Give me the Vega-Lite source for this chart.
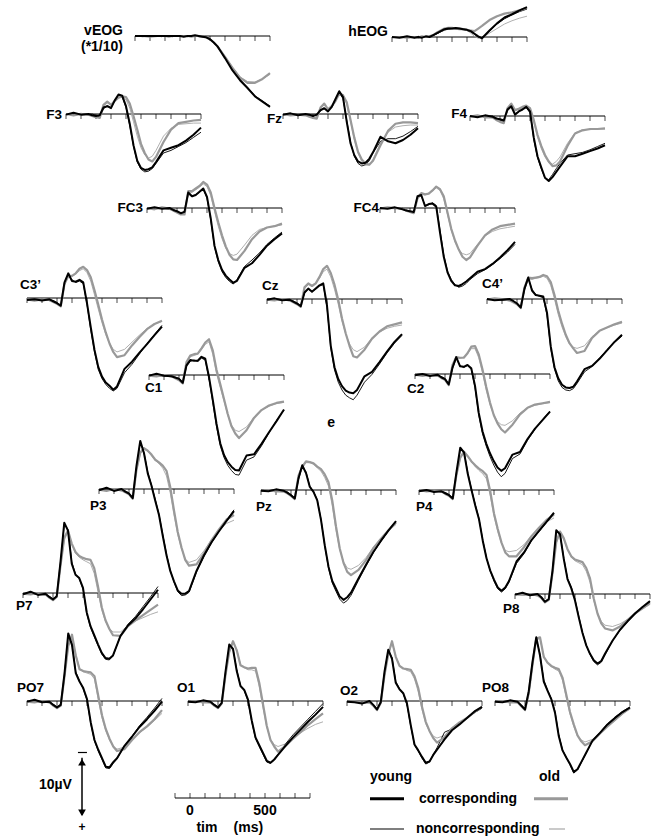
{
"$schema":"https://vega.github.io/schema/vega-lite/v6.json",
"width":652,"height":836,"padding":0,"autosize":{"type":"none"},"background":"white",
"config":{"view":{"stroke":null},"axis":{"disable":true},"font":"Liberation Sans","mark":{"invalid":"show"}},
"datasets":{
"one":[{"t":0,"v":0}],
"tlab":[{"t":0,"v":0,"lab":"0"},{"t":500,"v":0,"lab":"500"}],
"grid":[{"grid":"s","t":[-100,-50,0,50,75,100,125,150,175,200,225,250,275,300,325,350,375,400,425,450,475,500,550,600,650,700,750,800]}],
"ticks":[{"t":-100,"v":0},{"t":0,"v":0},{"t":100,"v":0},{"t":200,"v":0},{"t":300,"v":0},{"t":400,"v":0},{"t":500,"v":0},{"t":600,"v":0},{"t":700,"v":0},{"t":800,"v":0}],
"erp":[
{"ch":"vEOG","g":"on","grid":"s","v":[0.1,0,0,0,0,0.1,0,0,0,0.1,0,0,0,0,0.1,0.1,0.2,0.5,0.9,1.5,2.3,3.1,4.8,6.3,7.0,7.1,6.6,5.9]},
{"ch":"vEOG","g":"yn","grid":"s","v":[0,0.1,0,0,0.1,0,0,0.1,0,0,0,0.1,0,0,0.1,0.1,0.2,0.4,0.9,1.5,2.4,3.3,5.2,6.7,7.9,9.2,10.0,10.8]},
{"ch":"vEOG","g":"oc","grid":"s","v":[0,0,0.1,0,0,0,0.1,0,0,0,0,0,0.1,0,0,0.1,0.2,0.5,1.0,1.6,2.4,3.2,4.9,6.4,7.2,7.2,6.6,5.7]},
{"ch":"vEOG","g":"yc","grid":"s","v":[0,0,0,0,0,0,0,0,0,0,0.1,0,0,-0.1,0,0.1,0.2,0.5,1.0,1.6,2.5,3.4,5.3,6.8,8.0,9.3,10.1,10.9]},
{"ch":"hEOG","g":"on","grid":"s","v":[0.1,0.0,0.0,0.0,0.1,0.0,-0.1,0.0,-0.2,-0.5,-0.8,-1.0,-1.2,-1.2,-1.2,-1.1,-1.1,-1.0,-0.6,-0.1,0.2,0.1,-0.6,-1.3,-2.0,-2.5,-2.9,-3.2]},
{"ch":"hEOG","g":"yn","grid":"s","v":[0.1,0.0,0.0,0.1,-0.1,0.0,0.0,-0.1,-0.2,-0.5,-0.8,-1.1,-1.2,-1.3,-1.3,-1.2,-1.2,-1.0,-0.8,-0.4,0.0,0.1,-0.9,-2.0,-2.8,-3.4,-3.9,-4.3]},
{"ch":"hEOG","g":"oc","grid":"s","v":[0.0,0.0,0.1,0.0,0.1,-0.1,0.0,-0.1,-0.3,-0.7,-1.0,-1.3,-1.4,-1.4,-1.3,-1.3,-1.2,-1.1,-1.0,-0.9,-1.3,-1.7,-2.6,-3.2,-3.6,-3.8,-4.1,-4.5]},
{"ch":"hEOG","g":"yc","grid":"s","v":[0.0,0.1,-0.1,0.1,0.0,0.1,-0.1,0.0,-0.3,-0.6,-0.9,-1.2,-1.3,-1.3,-1.4,-1.3,-1.2,-1.1,-0.9,-0.5,-0.1,0.2,-1.0,-2.1,-3.0,-3.5,-4.1,-4.6]},
{"ch":"F3","g":"on","grid":"s","v":[0.1,-0.1,0.2,0.0,0.2,0.4,0.5,-1.2,-1.7,-1.5,-2.2,-2.6,-2.6,-2.2,-0.9,1.2,3.4,5.2,6.3,6.8,6.5,5.6,3.4,2.2,1.6,1.5,1.4,1.4]},
{"ch":"F3","g":"yn","grid":"s","v":[0.0,0.1,-0.1,0.1,0.0,0.2,0.4,-0.8,-1.3,-1.0,-2.0,-2.9,-2.6,-1.0,1.8,5.0,7.4,8.5,8.9,8.8,8.4,7.6,6.0,5.6,5.0,4.4,3.6,2.8]},
{"ch":"F3","g":"oc","grid":"s","v":[0.0,0.2,0.0,0.1,0.3,0.5,0.6,-1.4,-1.9,-1.4,-2.0,-2.5,-2.7,-2.6,-1.6,0.3,2.4,4.6,6.0,7.0,7.3,6.6,4.3,2.4,1.4,1.2,1.0,0.9]},
{"ch":"F3","g":"yc","grid":"s","v":[0.1,-0.2,0.1,0.0,0.2,0.3,0.2,-1.0,-1.2,-0.9,-2.1,-3.0,-2.8,-1.2,1.5,4.8,7.2,8.3,8.6,8.5,8.2,7.4,5.6,5.2,4.8,4.1,3.2,2.1]},
{"ch":"Fz","g":"on","grid":"s","v":[0.1,0.0,0.2,0.1,0.3,0.5,0.6,-0.9,-1.4,-0.8,-1.3,-2.1,-3.0,-2.7,-1.5,1.1,3.9,6.0,7.3,7.9,7.8,7.0,4.5,2.8,2.0,1.8,1.7,1.7]},
{"ch":"Fz","g":"yn","grid":"s","v":[0.0,0.1,0.0,0.1,0.2,0.2,0.3,-0.5,-0.8,-0.5,-1.0,-2.0,-3.2,-2.4,1.0,4.3,6.5,7.6,8.0,7.8,7.2,6.0,4.2,3.8,3.8,3.4,2.7,1.9]},
{"ch":"Fz","g":"oc","grid":"s","v":[0.0,0.2,0.1,0.2,0.4,0.6,0.7,-1.0,-1.6,-0.7,-1.2,-2.0,-3.1,-2.9,-1.8,0.9,3.6,5.8,7.0,7.6,7.8,7.2,4.8,2.6,1.5,1.3,1.3,1.4]},
{"ch":"Fz","g":"yc","grid":"s","v":[0.1,-0.1,0.2,0.0,0.1,0.3,0.1,-0.6,-0.9,-0.4,-1.1,-2.3,-3.5,-2.6,1.2,4.5,6.3,7.3,7.6,7.5,6.9,5.9,3.5,4.2,4.5,4.0,3.2,2.2]},
{"ch":"F4","g":"on","grid":"s","v":[0.0,0.1,0.1,0.3,0.5,0.8,1.0,-1.1,-1.7,-1.0,-1.0,-1.3,-1.5,-1.0,0.9,3.2,5.0,6.3,7.2,7.4,7.0,6.3,4.2,2.6,2.1,2.1,2.0,2.0]},
{"ch":"F4","g":"yn","grid":"s","v":[0.1,0.0,0.1,0.0,0.3,0.6,0.8,-0.8,-1.4,-0.4,-0.6,-1.1,-1.3,-0.5,3.6,6.4,8.1,9.6,9.8,9.0,8.1,7.3,6.0,5.8,5.6,5.2,4.7,4.2]},
{"ch":"F4","g":"oc","grid":"s","v":[0.1,-0.1,0.2,0.2,0.6,0.9,1.1,-1.2,-1.9,-0.9,-1.1,-1.4,-1.6,-1.2,0.6,2.9,4.6,6.0,7.0,7.7,7.6,7.0,4.6,2.7,2.2,2.0,2.0,1.9]},
{"ch":"F4","g":"yc","grid":"s","v":[0.0,0.2,-0.1,0.1,0.4,0.5,0.7,-1.0,-1.5,-0.2,-0.7,-1.0,-1.4,-0.7,3.3,6.2,7.9,9.5,10.0,9.4,8.6,7.8,6.2,6.2,5.8,5.4,5.0,4.5]},
{"ch":"FC3","g":"on","grid":"s","v":[0.1,0.0,0.1,0.2,0.3,0.6,0.9,0.8,-2.3,-2.4,-2.8,-3.2,-3.7,-3.3,-1.9,0.5,2.8,4.7,6.2,7.0,7.3,7.1,5.7,4.2,3.3,3.0,2.8,2.6]},
{"ch":"FC3","g":"yn","grid":"s","v":[0.0,0.1,0.0,0.2,0.2,0.6,0.9,0.5,-2.2,-1.7,-2.1,-2.4,-2.9,-1.5,1.9,6.0,8.3,9.8,10.7,11.3,11.7,11.0,9.0,8.0,6.9,5.6,4.6,3.7]},
{"ch":"FC3","g":"oc","grid":"s","v":[0.0,0.2,-0.1,0.1,0.4,0.7,1.0,1.0,-2.6,-2.6,-3.0,-3.4,-4.0,-3.6,-2.4,0.0,2.2,4.2,5.9,7.2,7.9,8.0,6.6,4.8,3.6,3.0,2.8,2.4]},
{"ch":"FC3","g":"yc","grid":"s","v":[0.1,-0.1,0.1,0.0,0.3,0.5,0.8,0.6,-2.4,-1.8,-2.0,-2.5,-3.0,-1.7,1.6,5.8,8.0,9.5,10.4,11.0,11.5,11.2,9.2,8.5,7.2,5.8,4.8,3.9]},
{"ch":"FC4","g":"on","grid":"s","v":[0.0,0.1,0.1,0.2,0.3,0.5,0.7,-1.4,-2.1,-2.0,-2.3,-2.6,-3.1,-2.7,-1.4,1.0,3.4,5.2,6.4,7.0,7.2,7.0,5.6,4.3,3.6,3.2,3.0,2.8]},
{"ch":"FC4","g":"yn","grid":"s","v":[0.1,0.0,0.1,0.0,0.3,0.6,0.7,-1.6,-1.9,-0.4,-0.5,-0.8,-0.4,3.4,7.2,9.7,11.0,11.8,12.2,12.0,11.6,11.0,10.1,9.5,8.7,7.8,6.8,5.6]},
{"ch":"FC4","g":"oc","grid":"s","v":[0.1,-0.1,0.0,0.1,0.4,0.6,0.8,-1.5,-2.3,-2.1,-2.2,-2.7,-3.3,-2.9,-1.8,0.7,3.2,5.0,6.4,7.5,8.0,7.6,5.8,4.2,3.3,2.8,2.6,2.4]},
{"ch":"FC4","g":"yc","grid":"s","v":[0.0,0.1,-0.1,0.2,0.4,0.5,0.6,-1.8,-2.0,-0.3,-0.6,-0.7,-0.2,3.8,7.5,9.9,11.2,11.9,12.0,11.7,11.3,10.8,9.8,9.4,8.6,7.6,6.5,5.2]},
{"ch":"C3'","g":"on","grid":"s","v":[0.3,0.2,0.3,0.4,0.5,0.8,1.2,-2.0,-3.2,-3.3,-3.7,-4.2,-4.5,-3.9,-2.6,-0.5,1.7,3.8,5.6,7.0,7.9,8.3,7.9,6.8,5.7,4.7,4.0,3.6]},
{"ch":"C3'","g":"yn","grid":"s","v":[0.2,0.3,0.3,0.4,0.4,0.7,1.1,-2.1,-3.5,-2.8,-2.4,-2.6,-2.2,1.0,4.9,8.3,11.0,12.4,13.3,13.9,14.3,13.9,11.5,10.2,8.6,7.0,5.6,4.2]},
{"ch":"C3'","g":"oc","grid":"s","v":[0.2,0.4,0.2,0.3,0.6,0.9,1.3,-2.2,-3.4,-3.4,-3.8,-4.5,-4.8,-4.3,-3.2,-1.2,1.0,3.3,5.3,7.0,8.3,9.1,8.8,7.3,6.0,4.8,4.0,3.5]},
{"ch":"C3'","g":"yc","grid":"s","v":[0.3,0.2,0.4,0.2,0.5,0.8,1.2,-2.4,-3.8,-2.6,-2.5,-2.8,-2.4,0.8,4.5,8.0,10.6,12.1,13.0,13.5,14.1,13.6,10.9,9.8,8.4,7.1,5.7,4.4]},
{"ch":"Cz","g":"on","grid":"s","v":[0.0,0.1,0.1,0.3,0.4,0.7,1.1,-1.6,-2.2,-2.1,-2.5,-3.2,-4.2,-4.6,-3.4,-1.5,0.8,3.4,5.4,6.9,7.8,8.1,7.4,6.0,5.1,4.5,4.2,4.0]},
{"ch":"Cz","g":"yn","grid":"s","v":[0.0,0.1,0.1,0.2,0.3,0.6,1.0,-0.9,-1.5,-1.2,-1.5,-2.0,-2.2,1.3,7.5,10.9,12.8,14.0,14.8,15.2,15.5,14.8,12.8,11.6,10.0,8.3,6.8,5.6]},
{"ch":"Cz","g":"oc","grid":"s","v":[0.1,0.2,0.0,0.2,0.5,0.8,1.2,-1.8,-2.4,-2.0,-2.4,-3.4,-4.6,-5.1,-4.0,-2.2,0.1,3.0,5.3,7.2,8.8,9.0,7.8,6.1,5.0,4.2,3.9,3.6]},
{"ch":"Cz","g":"yc","grid":"s","v":[0.1,-0.1,0.2,0.1,0.4,0.7,1.1,-1.0,-1.6,-1.1,-1.6,-2.1,-2.4,1.0,7.2,10.5,12.3,13.4,14.1,14.4,14.5,14.0,11.9,11.2,9.7,8.1,6.6,5.4]},
{"ch":"C4'","g":"on","grid":"s","v":[0.0,0.1,0.1,0.3,0.4,0.7,1.3,-1.7,-3.1,-3.0,-3.2,-3.3,-3.5,-3.2,-2.1,0.0,2.4,4.3,5.8,6.9,7.4,7.6,7.2,5.8,4.9,4.4,4.0,3.7]},
{"ch":"C4'","g":"yn","grid":"s","v":[0.1,0.0,0.2,0.1,0.4,0.6,1.2,-1.4,-3.1,-1.5,-0.7,-0.4,-0.2,2.5,7.6,10.8,12.6,13.6,14.0,14.1,13.8,13.0,11.2,10.4,9.1,7.8,6.7,5.7]},
{"ch":"C4'","g":"oc","grid":"s","v":[0.1,-0.1,0.0,0.2,0.5,0.8,1.4,-1.8,-3.3,-3.2,-3.3,-3.4,-3.7,-3.5,-2.6,-0.6,1.8,3.8,5.5,6.8,7.6,8.3,8.0,6.0,4.9,4.4,3.9,3.5]},
{"ch":"C4'","g":"yc","grid":"s","v":[0.0,0.2,0.1,0.0,0.3,0.7,1.3,-1.6,-3.3,-1.3,-0.6,-0.5,-0.4,2.1,7.3,10.5,12.2,13.2,13.6,13.7,13.5,12.7,10.8,10.3,9.2,7.9,6.6,5.5]},
{"ch":"C1","g":"on","grid":"s","v":[0.0,0.1,0.1,0.3,0.4,0.7,1.2,-1.8,-2.8,-3.0,-3.2,-3.9,-4.7,-5.1,-3.2,-0.2,1.9,4.0,6.2,7.7,8.5,8.7,8.0,6.5,5.4,4.8,4.4,4.2]},
{"ch":"C1","g":"yn","grid":"s","v":[0.0,0.1,0.2,0.1,0.3,0.5,1.1,-1.3,-2.1,-2.3,-2.1,-2.6,-2.3,0.6,4.2,7.9,10.9,12.7,13.9,14.7,15.3,15.4,13.1,12.6,10.9,8.9,7.0,5.4]},
{"ch":"C1","g":"oc","grid":"s","v":[0.1,0.2,0.0,0.2,0.5,0.8,1.3,-2.0,-3.0,-3.2,-3.3,-4.1,-5.0,-5.5,-3.8,-0.8,1.4,3.7,6.0,7.9,9.0,9.7,8.5,6.6,5.4,4.7,4.3,4.1]},
{"ch":"C1","g":"yc","grid":"s","v":[0.1,-0.2,0.1,0.2,0.4,0.6,1.2,-1.5,-2.3,-2.2,-2.2,-2.8,-2.5,0.3,3.8,7.5,10.5,12.3,13.4,14.1,14.6,14.7,12.4,12.2,10.6,8.8,7.1,5.3]},
{"ch":"C2","g":"on","grid":"s","v":[0.0,0.2,0.2,0.3,0.5,0.8,1.6,-1.2,-2.4,-2.4,-2.6,-3.1,-3.9,-3.9,-2.5,-0.2,2.5,4.7,6.3,7.3,7.8,7.9,7.2,6.0,5.2,4.8,4.6,4.4]},
{"ch":"C2","g":"yn","grid":"s","v":[0.1,0.2,0.2,0.3,0.4,0.7,1.5,-0.8,-2.4,-1.3,-1.0,-1.3,-0.7,2.1,6.3,9.2,11.1,12.7,14.0,15.1,15.8,15.3,13.0,12.3,10.2,8.5,7.0,5.7]},
{"ch":"C2","g":"oc","grid":"s","v":[0.1,0.3,0.1,0.2,0.6,0.9,1.7,-1.4,-2.6,-2.5,-2.5,-3.2,-4.2,-4.3,-3.0,-0.7,2.0,4.4,6.3,7.6,8.5,9.0,7.8,6.2,5.2,4.7,4.5,4.3]},
{"ch":"C2","g":"yc","grid":"s","v":[0.2,0.0,0.3,0.1,0.5,0.8,1.6,-1.0,-2.6,-1.2,-1.1,-1.4,-0.9,1.8,6.0,8.8,10.7,12.2,13.4,14.4,14.9,14.5,12.4,12.0,10.0,8.4,7.1,5.8]},
{"ch":"P3","g":"on","grid":"s","v":[0.0,0.2,0.1,0.3,0.4,0.7,1.4,-2.8,-5.4,-6.1,-5.8,-5.1,-4.4,-3.9,-3.2,-2.0,0.6,4.0,7.0,9.2,10.8,11.3,10.9,9.5,7.8,6.4,5.3,4.8]},
{"ch":"P3","g":"yn","grid":"s","v":[0.1,0.1,0.2,0.2,0.3,0.6,1.3,-3.3,-7.2,-5.6,-2.6,-0.6,1.6,3.9,7.0,10.0,12.5,14.3,15.8,16.4,16.3,15.9,12.8,10.4,8.3,6.5,4.8,3.2]},
{"ch":"P3","g":"oc","grid":"s","v":[0.1,0.3,0.0,0.2,0.5,0.8,1.5,-3.0,-5.6,-6.3,-5.9,-5.3,-4.5,-4.1,-3.6,-2.8,-0.3,3.3,6.6,9.0,10.9,11.8,11.6,9.9,7.9,6.2,4.7,4.0]},
{"ch":"P3","g":"yc","grid":"s","v":[0.2,-0.2,0.3,0.0,0.4,0.7,1.4,-3.6,-7.4,-5.5,-2.4,-0.5,1.8,4.0,7.2,10.2,12.6,14.2,15.6,16.1,16.1,15.7,12.6,10.2,8.2,6.5,4.9,3.4]},
{"ch":"Pz","g":"on","grid":"s","v":[0.0,0.1,0.2,0.3,0.4,0.8,1.3,-2.0,-3.4,-4.2,-4.2,-4.0,-3.4,-2.9,-1.9,-0.6,2.4,6.2,9.2,11.0,12.0,12.2,11.6,10.4,8.8,7.5,6.3,5.3]},
{"ch":"Pz","g":"yn","grid":"s","v":[0.0,0.1,0.1,0.2,0.3,0.7,1.2,-1.6,-3.6,-2.8,-0.6,0.2,1.5,4.5,8.6,12.0,14.3,15.6,16.8,17.4,17.0,16.2,13.9,11.7,9.6,7.9,6.3,4.9]},
{"ch":"Pz","g":"oc","grid":"s","v":[0.1,0.0,0.2,0.2,0.5,0.9,1.4,-2.2,-3.6,-4.4,-4.3,-4.1,-3.6,-3.2,-2.4,-1.2,1.6,5.6,9.0,11.2,12.6,13.1,12.3,10.8,8.9,7.5,6.2,5.0]},
{"ch":"Pz","g":"yc","grid":"s","v":[0.1,0.2,-0.1,0.1,0.4,0.8,1.3,-1.8,-3.8,-2.6,-0.5,0.3,1.6,4.6,8.5,11.8,14.0,15.2,16.4,16.9,16.5,15.8,13.6,11.5,9.5,7.8,6.2,4.8]},
{"ch":"P4","g":"on","grid":"s","v":[0.1,0.1,0.2,0.3,0.5,0.8,1.3,-2.2,-4.8,-5.7,-5.1,-4.3,-3.6,-3.0,-2.5,-1.7,0.9,4.0,6.4,8.2,9.3,9.5,9.3,8.4,7.0,5.9,4.9,4.3]},
{"ch":"P4","g":"yn","grid":"s","v":[0.1,0.2,0.1,0.3,0.4,0.7,1.2,-2.6,-6.2,-5.9,-2.7,-0.1,2.2,4.4,7.7,10.4,12.5,14.0,15.2,15.7,15.2,14.2,11.3,9.8,7.8,6.4,5.0,3.7]},
{"ch":"P4","g":"oc","grid":"s","v":[0.0,0.2,0.1,0.2,0.6,0.9,1.4,-2.4,-5.0,-5.9,-5.2,-4.4,-3.8,-3.3,-2.9,-2.3,0.2,3.6,6.0,8.1,9.6,10.2,10.2,8.8,7.1,5.8,4.6,3.8]},
{"ch":"P4","g":"yc","grid":"s","v":[0.2,0.0,0.3,0.2,0.5,0.8,1.3,-2.8,-6.5,-5.8,-2.5,0.0,2.4,4.5,7.8,10.5,12.4,13.8,15.0,15.5,15.0,14.0,11.0,9.6,7.7,6.3,4.9,3.5]},
{"ch":"P7","g":"on","grid":"s","v":[0.0,0.1,0.2,0.3,0.6,1.0,0.5,-4.0,-8.2,-9.4,-7.5,-6.1,-5.5,-5.1,-4.8,-4.5,-3.0,-0.2,2.6,4.4,5.4,6.0,6.0,5.0,4.3,3.8,3.3,2.9]},
{"ch":"P7","g":"yn","grid":"s","v":[0.1,0.1,0.2,0.3,0.5,0.9,0.4,-4.6,-10.6,-9.8,-4.8,-2.9,-2.2,-0.6,3.2,5.3,6.7,8.1,9.4,10.2,10.3,9.7,6.5,4.8,3.6,2.1,0.6,-1.0]},
{"ch":"P7","g":"oc","grid":"s","v":[0.1,0.2,0.0,0.2,0.7,1.1,0.6,-4.2,-8.5,-9.6,-7.6,-6.3,-5.7,-5.4,-5.2,-5.1,-3.8,-1.0,2.2,4.2,5.5,6.5,6.6,5.1,4.2,3.4,2.6,1.8]},
{"ch":"P7","g":"yc","grid":"s","v":[0.2,-0.2,0.3,0.1,0.6,1.0,0.5,-4.8,-10.8,-9.6,-4.5,-2.8,-2.3,-0.8,3.0,5.1,6.5,7.9,9.2,10.0,10.1,9.6,6.6,5.0,3.9,2.5,1.0,-0.5]},
{"ch":"P8","g":"on","grid":"s","v":[0.0,0.2,0.1,0.3,0.5,1.2,0.8,-3.0,-7.8,-9.4,-8.4,-6.8,-5.7,-5.1,-4.8,-4.5,-3.5,-1.8,1.0,3.0,4.2,4.8,5.0,4.6,3.9,3.0,2.3,1.6]},
{"ch":"P8","g":"yn","grid":"s","v":[0.0,0.1,0.1,0.2,0.4,1.1,0.7,-3.4,-9.6,-9.3,-5.6,-2.4,-1.1,0.8,3.4,5.9,7.9,9.3,10.4,10.9,10.5,9.4,7.2,5.6,4.3,3.1,2.1,1.2]},
{"ch":"P8","g":"oc","grid":"s","v":[0.1,0.1,0.0,0.2,0.6,1.3,0.9,-3.2,-8.0,-9.6,-8.6,-6.9,-5.8,-5.3,-5.1,-4.9,-4.0,-2.4,0.7,3.0,4.5,5.3,5.6,5.0,4.0,3.0,2.2,1.4]},
{"ch":"P8","g":"yc","grid":"s","v":[0.1,-0.2,0.2,0.0,0.5,1.2,0.8,-3.6,-9.8,-9.2,-5.4,-2.3,-0.9,1.0,3.6,6.0,7.9,9.2,10.2,10.7,10.3,9.2,7.2,5.5,4.2,3.0,2.0,1.1]},
{"ch":"PO7","g":"on","grid":"s","v":[0.0,0.1,0.1,0.3,0.6,1.0,0.6,-3.6,-8.3,-10.0,-7.2,-5.0,-4.5,-4.3,-4.1,-3.4,-0.2,2.6,4.6,6.0,7.0,7.4,7.1,6.0,4.9,4.0,3.0,1.9]},
{"ch":"PO7","g":"yn","grid":"s","v":[0.0,0.1,0.1,0.2,0.5,0.9,0.5,-4.0,-10.2,-8.8,-4.5,-3.1,-1.8,-0.1,3.5,6.2,7.7,9.0,10.3,10.4,9.6,8.9,6.9,5.4,3.8,2.5,1.1,-0.4]},
{"ch":"PO7","g":"oc","grid":"s","v":[0.1,0.2,0.0,0.2,0.7,1.1,0.7,-3.8,-8.5,-10.2,-7.0,-4.9,-4.6,-4.5,-4.4,-3.8,-0.8,2.2,4.3,5.8,7.0,7.7,7.4,6.0,4.8,3.9,2.8,1.4]},
{"ch":"PO7","g":"yc","grid":"s","v":[0.1,-0.2,0.2,0.1,0.6,1.0,0.6,-4.2,-10.4,-8.6,-4.3,-3.0,-2.0,-0.3,3.3,6.0,7.5,8.8,10.1,10.2,9.4,8.8,6.9,5.5,4.0,2.8,1.5,0.1]},
{"ch":"O1","g":"on","grid":"s","v":[0.0,0.1,0.1,0.3,0.6,1.0,0.3,-3.8,-7.4,-9.0,-7.9,-5.6,-5.1,-4.8,-4.8,-4.6,-2.2,1.0,4.0,5.9,6.7,7.0,6.6,5.7,4.9,4.2,3.6,3.2]},
{"ch":"O1","g":"yn","grid":"s","v":[0.0,0.1,0.1,0.2,0.5,0.9,0.2,-4.3,-8.5,-8.1,-4.8,-2.4,-1.6,0.0,3.2,5.8,7.0,8.2,9.4,9.6,9.1,8.2,6.6,5.2,4.0,2.8,1.6,0.4]},
{"ch":"O1","g":"oc","grid":"s","v":[0.1,0.0,0.2,0.2,0.7,1.1,0.4,-4.0,-7.6,-9.2,-7.8,-5.5,-5.2,-5.0,-5.1,-5.1,-2.8,0.5,3.8,6.0,7.0,7.8,6.9,5.8,4.8,3.7,2.8,1.9]},
{"ch":"O1","g":"yc","grid":"s","v":[0.1,0.2,-0.1,0.1,0.6,1.0,0.3,-4.5,-8.7,-8.0,-4.6,-2.3,-1.7,-0.2,3.0,5.6,6.8,8.0,9.2,9.5,9.0,8.3,6.9,5.6,4.4,3.2,2.1,0.9]},
{"ch":"O2","g":"on","grid":"s","v":[0.0,0.1,0.2,0.3,0.6,1.3,0.2,-3.8,-7.0,-9.0,-6.9,-5.5,-5.0,-4.7,-4.5,-3.4,-1.4,1.3,3.5,4.7,5.4,5.7,5.3,4.1,3.3,2.6,1.8,1.1]},
{"ch":"O2","g":"yn","grid":"s","v":[0.0,0.1,0.3,0.1,0.5,1.2,0.1,-4.3,-7.7,-6.7,-3.0,-1.9,-1.1,0.6,3.9,6.8,7.7,8.8,9.7,9.4,8.2,7.2,4.8,4.3,3.5,2.6,1.8,1.1]},
{"ch":"O2","g":"oc","grid":"s","v":[0.1,0.0,0.3,0.2,0.7,1.4,0.3,-4.0,-7.2,-9.2,-6.8,-5.4,-5.0,-4.9,-4.8,-3.8,-2.0,0.9,3.2,4.6,5.7,6.4,5.6,4.2,3.3,2.6,1.7,0.9]},
{"ch":"O2","g":"yc","grid":"s","v":[0.1,0.2,0.4,0.0,0.6,1.3,0.2,-4.5,-7.9,-6.5,-2.8,-1.8,-1.2,0.4,3.7,6.7,7.6,8.6,9.5,9.3,8.3,7.5,5.9,4.5,3.6,2.6,1.6,0.9]},
{"ch":"PO8","g":"on","grid":"s","v":[0.0,0.1,0.1,0.3,0.7,1.3,-1.0,-5.4,-9.4,-9.6,-6.9,-5.8,-5.3,-4.9,-4.6,-3.2,-0.5,2.0,3.9,5.4,6.0,6.3,5.9,4.9,3.9,3.0,2.0,1.2]},
{"ch":"PO8","g":"yn","grid":"s","v":[0.0,0.1,0.1,0.2,0.6,1.2,-1.3,-5.8,-9.6,-7.2,-3.2,-1.7,-0.4,1.6,5.2,7.5,8.7,9.8,11.1,10.6,9.5,8.4,6.1,4.8,3.5,2.5,1.6,0.9]},
{"ch":"PO8","g":"oc","grid":"s","v":[0.1,0.0,0.2,0.2,0.8,1.4,-1.2,-5.6,-9.6,-9.8,-6.8,-5.9,-5.4,-5.1,-4.9,-3.6,-1.0,1.7,3.6,5.3,6.2,6.8,6.2,5.0,3.9,2.9,1.9,1.1]},
{"ch":"PO8","g":"yc","grid":"s","v":[0.1,0.2,-0.1,0.1,0.7,1.3,-1.5,-6.0,-9.8,-7.0,-3.0,-1.6,-0.3,1.8,5.4,7.6,8.7,9.7,10.9,10.5,9.4,8.3,6.1,4.9,3.6,2.6,1.7,1.0]}
]},
"layer":[
{"encoding":{"x":{"field":"t","type":"quantitative","axis":null,"scale":{"domain":[-100,800],"range":[135,270],"nice":false,"zero":false}},"y":{"field":"v","type":"quantitative","axis":null,"scale":{"domain":[-10,10],"range":[-29,101],"nice":false,"zero":false}}},
"layer":[
{"data":{"name":"ticks"},"mark":{"type":"line","color":"black","strokeWidth":1},"encoding":{}},
{"data":{"name":"ticks"},"mark":{"type":"tick","orient":"vertical","color":"black","size":5,"thickness":1,"yOffset":2.5},"encoding":{}},
{"data":{"name":"erp"},"transform":[{"filter":{"field":"ch","equal":"vEOG"}},{"lookup":"grid","from":{"data":{"name":"grid"},"key":"grid","fields":["t"]}},{"flatten":["t","v"]}],"mark":{"type":"line","strokeJoin":"round"},"encoding":{"stroke":{"field":"g","type":"nominal","legend":null,"scale":{"domain":["on","yn","oc","yc"],"range":["#a6a6a6","#000000","#999999","#000000"]}},"strokeWidth":{"field":"g","type":"nominal","legend":null,"scale":{"type":"ordinal","domain":["on","yn","oc","yc"],"range":[0.9,0.9,2.2,2]}}}},
{"data":{"name":"one"},"mark":{"type":"text","fontWeight":"bold","fontSize":14,"align":"right","baseline":"alphabetic","dx":-12,"dy":-1},"encoding":{"x":{"datum":-100,"axis":null},"y":{"datum":0,"axis":null},"text":{"value":"vEOG"}}},
{"data":{"name":"one"},"mark":{"type":"text","fontWeight":"bold","fontSize":14,"align":"right","baseline":"top","dx":-12,"dy":4},"encoding":{"x":{"datum":-100,"axis":null},"y":{"datum":0,"axis":null},"text":{"value":"(*1/10)"}}}
]},
{"encoding":{"x":{"field":"t","type":"quantitative","axis":null,"scale":{"domain":[-100,800],"range":[392,527],"nice":false,"zero":false}},"y":{"field":"v","type":"quantitative","axis":null,"scale":{"domain":[-10,10],"range":[-28,102],"nice":false,"zero":false}}},
"layer":[
{"data":{"name":"ticks"},"mark":{"type":"line","color":"black","strokeWidth":1},"encoding":{}},
{"data":{"name":"ticks"},"mark":{"type":"tick","orient":"vertical","color":"black","size":5,"thickness":1,"yOffset":2.5},"encoding":{}},
{"data":{"name":"erp"},"transform":[{"filter":{"field":"ch","equal":"hEOG"}},{"lookup":"grid","from":{"data":{"name":"grid"},"key":"grid","fields":["t"]}},{"flatten":["t","v"]}],"mark":{"type":"line","strokeJoin":"round"},"encoding":{"stroke":{"field":"g","type":"nominal","legend":null,"scale":{"domain":["on","yn","oc","yc"],"range":["#a6a6a6","#000000","#999999","#000000"]}},"strokeWidth":{"field":"g","type":"nominal","legend":null,"scale":{"type":"ordinal","domain":["on","yn","oc","yc"],"range":[0.9,0.9,2.2,2]}}}},
{"data":{"name":"one"},"mark":{"type":"text","fontWeight":"bold","fontSize":14,"align":"right","baseline":"alphabetic","dx":-4,"dy":-1},"encoding":{"x":{"datum":-100,"axis":null},"y":{"datum":0,"axis":null},"text":{"value":"hEOG"}}}
]},
{"encoding":{"x":{"field":"t","type":"quantitative","axis":null,"scale":{"domain":[-100,800],"range":[66,201],"nice":false,"zero":false}},"y":{"field":"v","type":"quantitative","axis":null,"scale":{"domain":[-10,10],"range":[49,179],"nice":false,"zero":false}}},
"layer":[
{"data":{"name":"ticks"},"mark":{"type":"line","color":"black","strokeWidth":1},"encoding":{}},
{"data":{"name":"ticks"},"mark":{"type":"tick","orient":"vertical","color":"black","size":5,"thickness":1,"yOffset":2.5},"encoding":{}},
{"data":{"name":"erp"},"transform":[{"filter":{"field":"ch","equal":"F3"}},{"lookup":"grid","from":{"data":{"name":"grid"},"key":"grid","fields":["t"]}},{"flatten":["t","v"]}],"mark":{"type":"line","strokeJoin":"round"},"encoding":{"stroke":{"field":"g","type":"nominal","legend":null,"scale":{"domain":["on","yn","oc","yc"],"range":["#a6a6a6","#000000","#999999","#000000"]}},"strokeWidth":{"field":"g","type":"nominal","legend":null,"scale":{"type":"ordinal","domain":["on","yn","oc","yc"],"range":[0.9,0.9,2.2,2]}}}},
{"data":{"name":"one"},"mark":{"type":"text","fontWeight":"bold","fontSize":13.5,"align":"right","baseline":"middle","dx":-4,"dy":1},"encoding":{"x":{"datum":-100,"axis":null},"y":{"datum":0,"axis":null},"text":{"value":"F3"}}}
]},
{"encoding":{"x":{"field":"t","type":"quantitative","axis":null,"scale":{"domain":[-100,800],"range":[283,418],"nice":false,"zero":false}},"y":{"field":"v","type":"quantitative","axis":null,"scale":{"domain":[-10,10],"range":[49,179],"nice":false,"zero":false}}},
"layer":[
{"data":{"name":"ticks"},"mark":{"type":"line","color":"black","strokeWidth":1},"encoding":{}},
{"data":{"name":"ticks"},"mark":{"type":"tick","orient":"vertical","color":"black","size":5,"thickness":1,"yOffset":2.5},"encoding":{}},
{"data":{"name":"erp"},"transform":[{"filter":{"field":"ch","equal":"Fz"}},{"lookup":"grid","from":{"data":{"name":"grid"},"key":"grid","fields":["t"]}},{"flatten":["t","v"]}],"mark":{"type":"line","strokeJoin":"round"},"encoding":{"stroke":{"field":"g","type":"nominal","legend":null,"scale":{"domain":["on","yn","oc","yc"],"range":["#a6a6a6","#000000","#999999","#000000"]}},"strokeWidth":{"field":"g","type":"nominal","legend":null,"scale":{"type":"ordinal","domain":["on","yn","oc","yc"],"range":[0.9,0.9,2.2,2]}}}},
{"data":{"name":"one"},"mark":{"type":"text","fontWeight":"bold","fontSize":13.5,"align":"right","baseline":"alphabetic","dx":-1,"dy":9},"encoding":{"x":{"datum":-100,"axis":null},"y":{"datum":0,"axis":null},"text":{"value":"Fz"}}}
]},
{"encoding":{"x":{"field":"t","type":"quantitative","axis":null,"scale":{"domain":[-100,800],"range":[470,605],"nice":false,"zero":false}},"y":{"field":"v","type":"quantitative","axis":null,"scale":{"domain":[-10,10],"range":[51,181],"nice":false,"zero":false}}},
"layer":[
{"data":{"name":"ticks"},"mark":{"type":"line","color":"black","strokeWidth":1},"encoding":{}},
{"data":{"name":"ticks"},"mark":{"type":"tick","orient":"vertical","color":"black","size":5,"thickness":1,"yOffset":2.5},"encoding":{}},
{"data":{"name":"erp"},"transform":[{"filter":{"field":"ch","equal":"F4"}},{"lookup":"grid","from":{"data":{"name":"grid"},"key":"grid","fields":["t"]}},{"flatten":["t","v"]}],"mark":{"type":"line","strokeJoin":"round"},"encoding":{"stroke":{"field":"g","type":"nominal","legend":null,"scale":{"domain":["on","yn","oc","yc"],"range":["#a6a6a6","#000000","#999999","#000000"]}},"strokeWidth":{"field":"g","type":"nominal","legend":null,"scale":{"type":"ordinal","domain":["on","yn","oc","yc"],"range":[0.9,0.9,2.2,2]}}}},
{"data":{"name":"one"},"mark":{"type":"text","fontWeight":"bold","fontSize":13.5,"align":"right","baseline":"alphabetic","dx":-3,"dy":2},"encoding":{"x":{"datum":-100,"axis":null},"y":{"datum":0,"axis":null},"text":{"value":"F4"}}}
]},
{"encoding":{"x":{"field":"t","type":"quantitative","axis":null,"scale":{"domain":[-100,800],"range":[147,282],"nice":false,"zero":false}},"y":{"field":"v","type":"quantitative","axis":null,"scale":{"domain":[-10,10],"range":[143,273],"nice":false,"zero":false}}},
"layer":[
{"data":{"name":"ticks"},"mark":{"type":"line","color":"black","strokeWidth":1},"encoding":{}},
{"data":{"name":"ticks"},"mark":{"type":"tick","orient":"vertical","color":"black","size":5,"thickness":1,"yOffset":2.5},"encoding":{}},
{"data":{"name":"erp"},"transform":[{"filter":{"field":"ch","equal":"FC3"}},{"lookup":"grid","from":{"data":{"name":"grid"},"key":"grid","fields":["t"]}},{"flatten":["t","v"]}],"mark":{"type":"line","strokeJoin":"round"},"encoding":{"stroke":{"field":"g","type":"nominal","legend":null,"scale":{"domain":["on","yn","oc","yc"],"range":["#a6a6a6","#000000","#999999","#000000"]}},"strokeWidth":{"field":"g","type":"nominal","legend":null,"scale":{"type":"ordinal","domain":["on","yn","oc","yc"],"range":[0.9,0.9,2.2,2]}}}},
{"data":{"name":"one"},"mark":{"type":"text","fontWeight":"bold","fontSize":13.5,"align":"right","baseline":"alphabetic","dx":-4,"dy":4},"encoding":{"x":{"datum":-100,"axis":null},"y":{"datum":0,"axis":null},"text":{"value":"FC3"}}}
]},
{"encoding":{"x":{"field":"t","type":"quantitative","axis":null,"scale":{"domain":[-100,800],"range":[380,515],"nice":false,"zero":false}},"y":{"field":"v","type":"quantitative","axis":null,"scale":{"domain":[-10,10],"range":[143,273],"nice":false,"zero":false}}},
"layer":[
{"data":{"name":"ticks"},"mark":{"type":"line","color":"black","strokeWidth":1},"encoding":{}},
{"data":{"name":"ticks"},"mark":{"type":"tick","orient":"vertical","color":"black","size":5,"thickness":1,"yOffset":2.5},"encoding":{}},
{"data":{"name":"erp"},"transform":[{"filter":{"field":"ch","equal":"FC4"}},{"lookup":"grid","from":{"data":{"name":"grid"},"key":"grid","fields":["t"]}},{"flatten":["t","v"]}],"mark":{"type":"line","strokeJoin":"round"},"encoding":{"stroke":{"field":"g","type":"nominal","legend":null,"scale":{"domain":["on","yn","oc","yc"],"range":["#a6a6a6","#000000","#999999","#000000"]}},"strokeWidth":{"field":"g","type":"nominal","legend":null,"scale":{"type":"ordinal","domain":["on","yn","oc","yc"],"range":[0.9,0.9,2.2,2]}}}},
{"data":{"name":"one"},"mark":{"type":"text","fontWeight":"bold","fontSize":13.5,"align":"right","baseline":"alphabetic","dx":-1,"dy":4},"encoding":{"x":{"datum":-100,"axis":null},"y":{"datum":0,"axis":null},"text":{"value":"FC4"}}}
]},
{"encoding":{"x":{"field":"t","type":"quantitative","axis":null,"scale":{"domain":[-100,800],"range":[27,162],"nice":false,"zero":false}},"y":{"field":"v","type":"quantitative","axis":null,"scale":{"domain":[-10,10],"range":[233,363],"nice":false,"zero":false}}},
"layer":[
{"data":{"name":"ticks"},"mark":{"type":"line","color":"black","strokeWidth":1},"encoding":{}},
{"data":{"name":"ticks"},"mark":{"type":"tick","orient":"vertical","color":"black","size":5,"thickness":1,"yOffset":2.5},"encoding":{}},
{"data":{"name":"erp"},"transform":[{"filter":{"field":"ch","equal":"C3'"}},{"lookup":"grid","from":{"data":{"name":"grid"},"key":"grid","fields":["t"]}},{"flatten":["t","v"]}],"mark":{"type":"line","strokeJoin":"round"},"encoding":{"stroke":{"field":"g","type":"nominal","legend":null,"scale":{"domain":["on","yn","oc","yc"],"range":["#a6a6a6","#000000","#999999","#000000"]}},"strokeWidth":{"field":"g","type":"nominal","legend":null,"scale":{"type":"ordinal","domain":["on","yn","oc","yc"],"range":[0.9,0.9,2.2,2]}}}},
{"data":{"name":"one"},"mark":{"type":"text","fontWeight":"bold","fontSize":13.5,"align":"left","baseline":"alphabetic","dx":-7,"dy":-9},"encoding":{"x":{"datum":-100,"axis":null},"y":{"datum":0,"axis":null},"text":{"value":"C3’"}}}
]},
{"encoding":{"x":{"field":"t","type":"quantitative","axis":null,"scale":{"domain":[-100,800],"range":[267,402],"nice":false,"zero":false}},"y":{"field":"v","type":"quantitative","axis":null,"scale":{"domain":[-10,10],"range":[234,364],"nice":false,"zero":false}}},
"layer":[
{"data":{"name":"ticks"},"mark":{"type":"line","color":"black","strokeWidth":1},"encoding":{}},
{"data":{"name":"ticks"},"mark":{"type":"tick","orient":"vertical","color":"black","size":5,"thickness":1,"yOffset":2.5},"encoding":{}},
{"data":{"name":"erp"},"transform":[{"filter":{"field":"ch","equal":"Cz"}},{"lookup":"grid","from":{"data":{"name":"grid"},"key":"grid","fields":["t"]}},{"flatten":["t","v"]}],"mark":{"type":"line","strokeJoin":"round"},"encoding":{"stroke":{"field":"g","type":"nominal","legend":null,"scale":{"domain":["on","yn","oc","yc"],"range":["#a6a6a6","#000000","#999999","#000000"]}},"strokeWidth":{"field":"g","type":"nominal","legend":null,"scale":{"type":"ordinal","domain":["on","yn","oc","yc"],"range":[0.9,0.9,2.2,2]}}}},
{"data":{"name":"one"},"mark":{"type":"text","fontWeight":"bold","fontSize":13.5,"align":"left","baseline":"alphabetic","dx":-5,"dy":-9},"encoding":{"x":{"datum":-100,"axis":null},"y":{"datum":0,"axis":null},"text":{"value":"Cz"}}},
{"data":{"name":"one"},"mark":{"type":"text","fontWeight":"bold","fontSize":14,"align":"center","baseline":"middle"},"encoding":{"x":{"datum":327,"axis":null},"y":{"datum":19.1,"axis":null},"text":{"value":"e"}}}
]},
{"encoding":{"x":{"field":"t","type":"quantitative","axis":null,"scale":{"domain":[-100,800],"range":[487,622],"nice":false,"zero":false}},"y":{"field":"v","type":"quantitative","axis":null,"scale":{"domain":[-10,10],"range":[234,364],"nice":false,"zero":false}}},
"layer":[
{"data":{"name":"ticks"},"mark":{"type":"line","color":"black","strokeWidth":1},"encoding":{}},
{"data":{"name":"ticks"},"mark":{"type":"tick","orient":"vertical","color":"black","size":5,"thickness":1,"yOffset":2.5},"encoding":{}},
{"data":{"name":"erp"},"transform":[{"filter":{"field":"ch","equal":"C4'"}},{"lookup":"grid","from":{"data":{"name":"grid"},"key":"grid","fields":["t"]}},{"flatten":["t","v"]}],"mark":{"type":"line","strokeJoin":"round"},"encoding":{"stroke":{"field":"g","type":"nominal","legend":null,"scale":{"domain":["on","yn","oc","yc"],"range":["#a6a6a6","#000000","#999999","#000000"]}},"strokeWidth":{"field":"g","type":"nominal","legend":null,"scale":{"type":"ordinal","domain":["on","yn","oc","yc"],"range":[0.9,0.9,2.2,2]}}}},
{"data":{"name":"one"},"mark":{"type":"text","fontWeight":"bold","fontSize":13.5,"align":"left","baseline":"alphabetic","dx":-5,"dy":-11},"encoding":{"x":{"datum":-100,"axis":null},"y":{"datum":0,"axis":null},"text":{"value":"C4’"}}}
]},
{"encoding":{"x":{"field":"t","type":"quantitative","axis":null,"scale":{"domain":[-100,800],"range":[149,284],"nice":false,"zero":false}},"y":{"field":"v","type":"quantitative","axis":null,"scale":{"domain":[-10,10],"range":[310,440],"nice":false,"zero":false}}},
"layer":[
{"data":{"name":"ticks"},"mark":{"type":"line","color":"black","strokeWidth":1},"encoding":{}},
{"data":{"name":"ticks"},"mark":{"type":"tick","orient":"vertical","color":"black","size":5,"thickness":1,"yOffset":2.5},"encoding":{}},
{"data":{"name":"erp"},"transform":[{"filter":{"field":"ch","equal":"C1"}},{"lookup":"grid","from":{"data":{"name":"grid"},"key":"grid","fields":["t"]}},{"flatten":["t","v"]}],"mark":{"type":"line","strokeJoin":"round"},"encoding":{"stroke":{"field":"g","type":"nominal","legend":null,"scale":{"domain":["on","yn","oc","yc"],"range":["#a6a6a6","#000000","#999999","#000000"]}},"strokeWidth":{"field":"g","type":"nominal","legend":null,"scale":{"type":"ordinal","domain":["on","yn","oc","yc"],"range":[0.9,0.9,2.2,2]}}}},
{"data":{"name":"one"},"mark":{"type":"text","fontWeight":"bold","fontSize":13.5,"align":"left","baseline":"alphabetic","dx":-4,"dy":17},"encoding":{"x":{"datum":-100,"axis":null},"y":{"datum":0,"axis":null},"text":{"value":"C1"}}}
]},
{"encoding":{"x":{"field":"t","type":"quantitative","axis":null,"scale":{"domain":[-100,800],"range":[415,550],"nice":false,"zero":false}},"y":{"field":"v","type":"quantitative","axis":null,"scale":{"domain":[-10,10],"range":[309,439],"nice":false,"zero":false}}},
"layer":[
{"data":{"name":"ticks"},"mark":{"type":"line","color":"black","strokeWidth":1},"encoding":{}},
{"data":{"name":"ticks"},"mark":{"type":"tick","orient":"vertical","color":"black","size":5,"thickness":1,"yOffset":2.5},"encoding":{}},
{"data":{"name":"erp"},"transform":[{"filter":{"field":"ch","equal":"C2"}},{"lookup":"grid","from":{"data":{"name":"grid"},"key":"grid","fields":["t"]}},{"flatten":["t","v"]}],"mark":{"type":"line","strokeJoin":"round"},"encoding":{"stroke":{"field":"g","type":"nominal","legend":null,"scale":{"domain":["on","yn","oc","yc"],"range":["#a6a6a6","#000000","#999999","#000000"]}},"strokeWidth":{"field":"g","type":"nominal","legend":null,"scale":{"type":"ordinal","domain":["on","yn","oc","yc"],"range":[0.9,0.9,2.2,2]}}}},
{"data":{"name":"one"},"mark":{"type":"text","fontWeight":"bold","fontSize":13.5,"align":"left","baseline":"alphabetic","dx":-8,"dy":19},"encoding":{"x":{"datum":-100,"axis":null},"y":{"datum":0,"axis":null},"text":{"value":"C2"}}}
]},
{"encoding":{"x":{"field":"t","type":"quantitative","axis":null,"scale":{"domain":[-100,800],"range":[99,234],"nice":false,"zero":false}},"y":{"field":"v","type":"quantitative","axis":null,"scale":{"domain":[-10,10],"range":[424,554],"nice":false,"zero":false}}},
"layer":[
{"data":{"name":"ticks"},"mark":{"type":"line","color":"black","strokeWidth":1},"encoding":{}},
{"data":{"name":"ticks"},"mark":{"type":"tick","orient":"vertical","color":"black","size":5,"thickness":1,"yOffset":2.5},"encoding":{}},
{"data":{"name":"erp"},"transform":[{"filter":{"field":"ch","equal":"P3"}},{"lookup":"grid","from":{"data":{"name":"grid"},"key":"grid","fields":["t"]}},{"flatten":["t","v"]}],"mark":{"type":"line","strokeJoin":"round"},"encoding":{"stroke":{"field":"g","type":"nominal","legend":null,"scale":{"domain":["on","yn","oc","yc"],"range":["#a6a6a6","#000000","#999999","#000000"]}},"strokeWidth":{"field":"g","type":"nominal","legend":null,"scale":{"type":"ordinal","domain":["on","yn","oc","yc"],"range":[0.9,0.9,2.2,2]}}}},
{"data":{"name":"one"},"mark":{"type":"text","fontWeight":"bold","fontSize":13.5,"align":"left","baseline":"alphabetic","dx":-9,"dy":21},"encoding":{"x":{"datum":-100,"axis":null},"y":{"datum":0,"axis":null},"text":{"value":"P3"}}}
]},
{"encoding":{"x":{"field":"t","type":"quantitative","axis":null,"scale":{"domain":[-100,800],"range":[261,396],"nice":false,"zero":false}},"y":{"field":"v","type":"quantitative","axis":null,"scale":{"domain":[-10,10],"range":[425,555],"nice":false,"zero":false}}},
"layer":[
{"data":{"name":"ticks"},"mark":{"type":"line","color":"black","strokeWidth":1},"encoding":{}},
{"data":{"name":"ticks"},"mark":{"type":"tick","orient":"vertical","color":"black","size":5,"thickness":1,"yOffset":2.5},"encoding":{}},
{"data":{"name":"erp"},"transform":[{"filter":{"field":"ch","equal":"Pz"}},{"lookup":"grid","from":{"data":{"name":"grid"},"key":"grid","fields":["t"]}},{"flatten":["t","v"]}],"mark":{"type":"line","strokeJoin":"round"},"encoding":{"stroke":{"field":"g","type":"nominal","legend":null,"scale":{"domain":["on","yn","oc","yc"],"range":["#a6a6a6","#000000","#999999","#000000"]}},"strokeWidth":{"field":"g","type":"nominal","legend":null,"scale":{"type":"ordinal","domain":["on","yn","oc","yc"],"range":[0.9,0.9,2.2,2]}}}},
{"data":{"name":"one"},"mark":{"type":"text","fontWeight":"bold","fontSize":13.5,"align":"left","baseline":"alphabetic","dx":-5,"dy":21},"encoding":{"x":{"datum":-100,"axis":null},"y":{"datum":0,"axis":null},"text":{"value":"Pz"}}}
]},
{"encoding":{"x":{"field":"t","type":"quantitative","axis":null,"scale":{"domain":[-100,800],"range":[419,554],"nice":false,"zero":false}},"y":{"field":"v","type":"quantitative","axis":null,"scale":{"domain":[-10,10],"range":[425,555],"nice":false,"zero":false}}},
"layer":[
{"data":{"name":"ticks"},"mark":{"type":"line","color":"black","strokeWidth":1},"encoding":{}},
{"data":{"name":"ticks"},"mark":{"type":"tick","orient":"vertical","color":"black","size":5,"thickness":1,"yOffset":2.5},"encoding":{}},
{"data":{"name":"erp"},"transform":[{"filter":{"field":"ch","equal":"P4"}},{"lookup":"grid","from":{"data":{"name":"grid"},"key":"grid","fields":["t"]}},{"flatten":["t","v"]}],"mark":{"type":"line","strokeJoin":"round"},"encoding":{"stroke":{"field":"g","type":"nominal","legend":null,"scale":{"domain":["on","yn","oc","yc"],"range":["#a6a6a6","#000000","#999999","#000000"]}},"strokeWidth":{"field":"g","type":"nominal","legend":null,"scale":{"type":"ordinal","domain":["on","yn","oc","yc"],"range":[0.9,0.9,2.2,2]}}}},
{"data":{"name":"one"},"mark":{"type":"text","fontWeight":"bold","fontSize":13.5,"align":"left","baseline":"alphabetic","dx":-3,"dy":21},"encoding":{"x":{"datum":-100,"axis":null},"y":{"datum":0,"axis":null},"text":{"value":"P4"}}}
]},
{"encoding":{"x":{"field":"t","type":"quantitative","axis":null,"scale":{"domain":[-100,800],"range":[23,158],"nice":false,"zero":false}},"y":{"field":"v","type":"quantitative","axis":null,"scale":{"domain":[-10,10],"range":[528,658],"nice":false,"zero":false}}},
"layer":[
{"data":{"name":"ticks"},"mark":{"type":"line","color":"black","strokeWidth":1},"encoding":{}},
{"data":{"name":"ticks"},"mark":{"type":"tick","orient":"vertical","color":"black","size":5,"thickness":1,"yOffset":2.5},"encoding":{}},
{"data":{"name":"erp"},"transform":[{"filter":{"field":"ch","equal":"P7"}},{"lookup":"grid","from":{"data":{"name":"grid"},"key":"grid","fields":["t"]}},{"flatten":["t","v"]}],"mark":{"type":"line","strokeJoin":"round"},"encoding":{"stroke":{"field":"g","type":"nominal","legend":null,"scale":{"domain":["on","yn","oc","yc"],"range":["#a6a6a6","#000000","#999999","#000000"]}},"strokeWidth":{"field":"g","type":"nominal","legend":null,"scale":{"type":"ordinal","domain":["on","yn","oc","yc"],"range":[0.9,0.9,2.2,2]}}}},
{"data":{"name":"one"},"mark":{"type":"text","fontWeight":"bold","fontSize":13.5,"align":"left","baseline":"alphabetic","dx":-7,"dy":17},"encoding":{"x":{"datum":-100,"axis":null},"y":{"datum":0,"axis":null},"text":{"value":"P7"}}}
]},
{"encoding":{"x":{"field":"t","type":"quantitative","axis":null,"scale":{"domain":[-100,800],"range":[515,650],"nice":false,"zero":false}},"y":{"field":"v","type":"quantitative","axis":null,"scale":{"domain":[-10,10],"range":[529,659],"nice":false,"zero":false}}},
"layer":[
{"data":{"name":"ticks"},"mark":{"type":"line","color":"black","strokeWidth":1},"encoding":{}},
{"data":{"name":"ticks"},"mark":{"type":"tick","orient":"vertical","color":"black","size":5,"thickness":1,"yOffset":2.5},"encoding":{}},
{"data":{"name":"erp"},"transform":[{"filter":{"field":"ch","equal":"P8"}},{"lookup":"grid","from":{"data":{"name":"grid"},"key":"grid","fields":["t"]}},{"flatten":["t","v"]}],"mark":{"type":"line","strokeJoin":"round"},"encoding":{"stroke":{"field":"g","type":"nominal","legend":null,"scale":{"domain":["on","yn","oc","yc"],"range":["#a6a6a6","#000000","#999999","#000000"]}},"strokeWidth":{"field":"g","type":"nominal","legend":null,"scale":{"type":"ordinal","domain":["on","yn","oc","yc"],"range":[0.9,0.9,2.2,2]}}}},
{"data":{"name":"one"},"mark":{"type":"text","fontWeight":"bold","fontSize":13.5,"align":"left","baseline":"alphabetic","dx":-12,"dy":19},"encoding":{"x":{"datum":-100,"axis":null},"y":{"datum":0,"axis":null},"text":{"value":"P8"}}}
]},
{"encoding":{"x":{"field":"t","type":"quantitative","axis":null,"scale":{"domain":[-100,800],"range":[27,162],"nice":false,"zero":false}},"y":{"field":"v","type":"quantitative","axis":null,"scale":{"domain":[-10,10],"range":[636,766],"nice":false,"zero":false}}},
"layer":[
{"data":{"name":"ticks"},"mark":{"type":"line","color":"black","strokeWidth":1},"encoding":{}},
{"data":{"name":"ticks"},"mark":{"type":"tick","orient":"vertical","color":"black","size":5,"thickness":1,"yOffset":2.5},"encoding":{}},
{"data":{"name":"erp"},"transform":[{"filter":{"field":"ch","equal":"PO7"}},{"lookup":"grid","from":{"data":{"name":"grid"},"key":"grid","fields":["t"]}},{"flatten":["t","v"]}],"mark":{"type":"line","strokeJoin":"round"},"encoding":{"stroke":{"field":"g","type":"nominal","legend":null,"scale":{"domain":["on","yn","oc","yc"],"range":["#a6a6a6","#000000","#999999","#000000"]}},"strokeWidth":{"field":"g","type":"nominal","legend":null,"scale":{"type":"ordinal","domain":["on","yn","oc","yc"],"range":[0.9,0.9,2.2,2]}}}},
{"data":{"name":"one"},"mark":{"type":"text","fontWeight":"bold","fontSize":13.5,"align":"left","baseline":"alphabetic","dx":-10,"dy":-9},"encoding":{"x":{"datum":-100,"axis":null},"y":{"datum":0,"axis":null},"text":{"value":"PO7"}}}
]},
{"encoding":{"x":{"field":"t","type":"quantitative","axis":null,"scale":{"domain":[-100,800],"range":[188,323],"nice":false,"zero":false}},"y":{"field":"v","type":"quantitative","axis":null,"scale":{"domain":[-10,10],"range":[636,766],"nice":false,"zero":false}}},
"layer":[
{"data":{"name":"ticks"},"mark":{"type":"line","color":"black","strokeWidth":1},"encoding":{}},
{"data":{"name":"ticks"},"mark":{"type":"tick","orient":"vertical","color":"black","size":5,"thickness":1,"yOffset":2.5},"encoding":{}},
{"data":{"name":"erp"},"transform":[{"filter":{"field":"ch","equal":"O1"}},{"lookup":"grid","from":{"data":{"name":"grid"},"key":"grid","fields":["t"]}},{"flatten":["t","v"]}],"mark":{"type":"line","strokeJoin":"round"},"encoding":{"stroke":{"field":"g","type":"nominal","legend":null,"scale":{"domain":["on","yn","oc","yc"],"range":["#a6a6a6","#000000","#999999","#000000"]}},"strokeWidth":{"field":"g","type":"nominal","legend":null,"scale":{"type":"ordinal","domain":["on","yn","oc","yc"],"range":[0.9,0.9,2.2,2]}}}},
{"data":{"name":"one"},"mark":{"type":"text","fontWeight":"bold","fontSize":13.5,"align":"left","baseline":"alphabetic","dx":-11,"dy":-9},"encoding":{"x":{"datum":-100,"axis":null},"y":{"datum":0,"axis":null},"text":{"value":"O1"}}}
]},
{"encoding":{"x":{"field":"t","type":"quantitative","axis":null,"scale":{"domain":[-100,800],"range":[347,482],"nice":false,"zero":false}},"y":{"field":"v","type":"quantitative","axis":null,"scale":{"domain":[-10,10],"range":[636,766],"nice":false,"zero":false}}},
"layer":[
{"data":{"name":"ticks"},"mark":{"type":"line","color":"black","strokeWidth":1},"encoding":{}},
{"data":{"name":"ticks"},"mark":{"type":"tick","orient":"vertical","color":"black","size":5,"thickness":1,"yOffset":2.5},"encoding":{}},
{"data":{"name":"erp"},"transform":[{"filter":{"field":"ch","equal":"O2"}},{"lookup":"grid","from":{"data":{"name":"grid"},"key":"grid","fields":["t"]}},{"flatten":["t","v"]}],"mark":{"type":"line","strokeJoin":"round"},"encoding":{"stroke":{"field":"g","type":"nominal","legend":null,"scale":{"domain":["on","yn","oc","yc"],"range":["#a6a6a6","#000000","#999999","#000000"]}},"strokeWidth":{"field":"g","type":"nominal","legend":null,"scale":{"type":"ordinal","domain":["on","yn","oc","yc"],"range":[0.9,0.9,2.2,2]}}}},
{"data":{"name":"one"},"mark":{"type":"text","fontWeight":"bold","fontSize":13.5,"align":"left","baseline":"alphabetic","dx":-7,"dy":-6},"encoding":{"x":{"datum":-100,"axis":null},"y":{"datum":0,"axis":null},"text":{"value":"O2"}}}
]},
{"encoding":{"x":{"field":"t","type":"quantitative","axis":null,"scale":{"domain":[-100,800],"range":[495,630],"nice":false,"zero":false}},"y":{"field":"v","type":"quantitative","axis":null,"scale":{"domain":[-10,10],"range":[636,766],"nice":false,"zero":false}}},
"layer":[
{"data":{"name":"ticks"},"mark":{"type":"line","color":"black","strokeWidth":1},"encoding":{}},
{"data":{"name":"ticks"},"mark":{"type":"tick","orient":"vertical","color":"black","size":5,"thickness":1,"yOffset":2.5},"encoding":{}},
{"data":{"name":"erp"},"transform":[{"filter":{"field":"ch","equal":"PO8"}},{"lookup":"grid","from":{"data":{"name":"grid"},"key":"grid","fields":["t"]}},{"flatten":["t","v"]}],"mark":{"type":"line","strokeJoin":"round"},"encoding":{"stroke":{"field":"g","type":"nominal","legend":null,"scale":{"domain":["on","yn","oc","yc"],"range":["#a6a6a6","#000000","#999999","#000000"]}},"strokeWidth":{"field":"g","type":"nominal","legend":null,"scale":{"type":"ordinal","domain":["on","yn","oc","yc"],"range":[0.9,0.9,2.2,2]}}}},
{"data":{"name":"one"},"mark":{"type":"text","fontWeight":"bold","fontSize":13.5,"align":"left","baseline":"alphabetic","dx":-13,"dy":-9},"encoding":{"x":{"datum":-100,"axis":null},"y":{"datum":0,"axis":null},"text":{"value":"PO8"}}}
]},
{"encoding":{"x":{"field":"t","type":"quantitative","axis":null,"scale":{"domain":[-100,800],"range":[175,310],"nice":false,"zero":false}},"y":{"field":"v","type":"quantitative","axis":null,"scale":{"domain":[-10,10],"range":[720,850],"nice":false,"zero":false}}},
"layer":[
{"data":{"name":"ticks"},"mark":{"type":"line","color":"black","strokeWidth":1},"encoding":{"y":{"datum":2,"axis":null}}},
{"data":{"name":"ticks"},"mark":{"type":"tick","orient":"vertical","color":"black","size":5,"thickness":1,"yOffset":-2.5},"encoding":{"y":{"datum":2,"axis":null}}},
{"data":{"name":"tlab"},"mark":{"type":"text","fontWeight":"bold","fontSize":14,"baseline":"middle","align":"center"},"encoding":{"y":{"datum":4,"axis":null},"text":{"field":"lab"}}},
{"data":{"name":"one"},"mark":{"type":"text","fontWeight":"bold","fontSize":14,"baseline":"middle","align":"center"},"encoding":{"x":{"datum":113,"axis":null},"y":{"datum":6.6,"axis":null},"text":{"value":"tim"}}},
{"data":{"name":"one"},"mark":{"type":"text","fontWeight":"bold","fontSize":14,"baseline":"middle","align":"center"},"encoding":{"x":{"datum":389,"axis":null},"y":{"datum":6.6,"axis":null},"text":{"value":"(ms)"}}},
{"data":{"name":"one"},"mark":{"type":"rule","color":"black","strokeWidth":1.5},"encoding":{"x":{"datum":-720,"axis":null},"y":{"datum":-4.2,"axis":null},"y2":{"datum":4.6}}},
{"data":{"name":"one"},"mark":{"type":"rule","color":"black","strokeWidth":1.2},"encoding":{"x":{"datum":-747,"axis":null},"x2":{"datum":-687},"y":{"datum":-5,"axis":null}}},
{"data":{"name":"one"},"mark":{"type":"point","shape":"triangle-up","filled":true,"color":"black","size":60,"opacity":1},"encoding":{"x":{"datum":-720,"axis":null},"y":{"datum":-3.5,"axis":null}}},
{"data":{"name":"one"},"mark":{"type":"point","shape":"triangle-down","filled":true,"color":"black","size":60,"opacity":1},"encoding":{"x":{"datum":-720,"axis":null},"y":{"datum":4.3,"axis":null}}},
{"data":{"name":"one"},"mark":{"type":"text","fontWeight":"bold","fontSize":12,"baseline":"middle","align":"center"},"encoding":{"x":{"datum":-720,"axis":null},"y":{"datum":6.5,"axis":null},"text":{"value":"+"}}},
{"data":{"name":"one"},"mark":{"type":"text","fontWeight":"bold","fontSize":14,"baseline":"middle","align":"right"},"encoding":{"x":{"datum":-787,"axis":null},"y":{"datum":0,"axis":null},"text":{"value":"10µV"}}}
]},
{"data":{"name":"one"},
"layer":[
{"mark":{"type":"text","fontWeight":"bold","fontSize":14,"baseline":"middle","align":"left"},"encoding":{"x":{"datum":0,"type":"quantitative","axis":null,"scale":{"domain":[0,100],"range":[370,570],"nice":false,"zero":false}},"y":{"datum":0,"type":"quantitative","axis":null,"scale":{"domain":[0,100],"range":[777,829],"nice":false,"zero":false}},"text":{"value":"young"}}},
{"mark":{"type":"text","fontWeight":"bold","fontSize":14,"baseline":"middle","align":"left"},"encoding":{"x":{"datum":84.5,"axis":null},"y":{"datum":0,"axis":null},"text":{"value":"old"}}},
{"mark":{"type":"rule","color":"#000000","strokeWidth":3},"encoding":{"x":{"datum":0,"axis":null},"x2":{"datum":17},"y":{"datum":42,"axis":null}}},
{"mark":{"type":"text","fontWeight":"bold","fontSize":14,"baseline":"middle","align":"left"},"encoding":{"x":{"datum":24.5,"axis":null},"y":{"datum":42,"axis":null},"text":{"value":"corresponding"}}},
{"mark":{"type":"rule","color":"#999999","strokeWidth":3},"encoding":{"x":{"datum":82,"axis":null},"x2":{"datum":99},"y":{"datum":42,"axis":null}}},
{"mark":{"type":"rule","color":"#000000","strokeWidth":1.2},"encoding":{"x":{"datum":0,"axis":null},"x2":{"datum":17},"y":{"datum":100,"axis":null}}},
{"mark":{"type":"text","fontWeight":"bold","fontSize":14,"baseline":"middle","align":"left"},"encoding":{"x":{"datum":23,"axis":null},"y":{"datum":100,"axis":null},"text":{"value":"noncorresponding"}}},
{"mark":{"type":"rule","color":"#a6a6a6","strokeWidth":1.2},"encoding":{"x":{"datum":89.5,"axis":null},"x2":{"datum":97.5},"y":{"datum":100,"axis":null}}}
]}
],
"resolve":{"scale":{"x":"independent","y":"independent"}}
}
